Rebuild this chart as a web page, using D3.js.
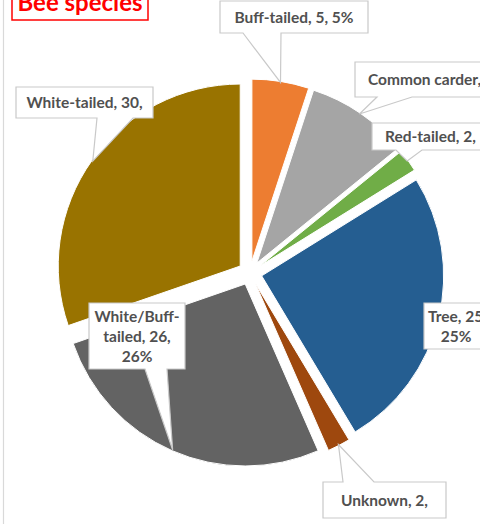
<!DOCTYPE html>
<html>
<head>
<meta charset="utf-8">
<script src="https://cdn.jsdelivr.net/npm/d3@7"></script>
<style>
html,body{margin:0;padding:0;background:#fff;overflow:hidden;}
svg{display:block;}
</style>
</head>
<body>
<script>
// ---- data ----
const categories = ["Buff-tailed","Common carder","Red-tailed","Tree","Unknown","White/Buff-tailed","White-tailed"];
const values = [5, 9, 2, 25, 2, 26, 30];
const colors = ["#ED7D31","#A5A5A5","#70AD47","#255E91","#9E480E","#636363","#997300"];
// visible label lines (as shown in the reference, cut by the chart edge)
const labelLines = [
  ["Buff-tailed, 5, 5%"],
  ["Common carder,"],
  ["Red-tailed, 2,"],
  ["Tree, 25", "25%"],
  ["Unknown, 2,"],
  ["White/Buff-", "tailed, 26,", "26%"],
  ["White-tailed, 30,"]
];
const title = "Bee species";

// ---- layout ----
const W = 480, H = 524;
const cx = 250, cy = 273, R = 182, explode = 12;
// label boxes: x,y,w,h, pointer side and base x positions
const boxes = [
  {x:220, y:1,   w:148, h:32, side:"bottom", b1:243, b2:281},
  {x:355, y:62,  w:160, h:35, side:"bottom", b1:377, b2:412},
  {x:372, y:123, w:140, h:27, side:"bottom", b1:396, b2:422},
  {x:424, y:303, w:64,  h:46, side:null},
  {x:323, y:482, w:123, h:36, side:"top",    b1:343, b2:374},
  {x:89,  y:303, w:96,  h:66, side:"bottom", b1:145, b2:167},
  {x:16,  y:87,  w:137, h:31, side:"bottom", b1:97,  b2:133}
];

const svg = d3.select("body").append("svg").attr("width", W).attr("height", H);

// chart area left border
svg.append("line").attr("x1",3.5).attr("x2",3.5).attr("y1",0).attr("y2",H)
  .attr("stroke","#D9D9D9").attr("stroke-width",1.2);

const pie = d3.pie().sort(null).value(d => d).startAngle(0).endAngle(2*Math.PI);
const arcs = pie(values);
const arc = d3.arc().innerRadius(0).outerRadius(R);

function offset(a){
  const m = (a.startAngle + a.endAngle)/2;
  return [explode*Math.sin(m), -explode*Math.cos(m)];
}

const g = svg.append("g").attr("transform", `translate(${cx},${cy})`);
g.selectAll("path.slice").data(arcs).enter().append("path")
  .attr("class","slice")
  .attr("d", arc)
  .attr("transform", d => { const o = offset(d); return `translate(${o[0]},${o[1]})`; })
  .attr("fill", (d,i) => colors[i])
  .attr("stroke", "#fff").attr("stroke-width", 1);

// callouts
function tipOf(a){
  const m = (a.startAngle + a.endAngle)/2;
  const o = offset(a);
  return [cx + o[0] + (R-1)*Math.sin(m), cy + o[1] - (R-1)*Math.cos(m)];
}
function calloutPath(b, tip){
  const x=b.x, y=b.y, w=b.w, h=b.h;
  if (b.side === "bottom"){
    return `M${x},${y}H${x+w}V${y+h}H${b.b2}L${tip[0]},${tip[1]}L${b.b1},${y+h}H${x}Z`;
  } else if (b.side === "top"){
    return `M${x},${y}H${b.b1}L${tip[0]},${tip[1]}L${b.b2},${y}H${x+w}V${y+h}H${x}Z`;
  }
  return `M${x},${y}H${x+w}V${y+h}H${x}Z`;
}

const lg = svg.append("g");
arcs.forEach((a,i) => {
  const b = boxes[i];
  const tip = tipOf(a);
  lg.append("path").attr("d", calloutPath(b, tip))
    .attr("fill","#fff").attr("stroke","#C9C9C9").attr("stroke-width",1.2)
    .attr("stroke-linejoin","miter");
  const lines = labelLines[i];
  const lh = 20;
  const midY = b.y + b.h/2;
  const startY = midY - (lines.length-1)*lh/2;
  const leftAligned = (i===1 || i===2 || i===3);
  const tx = leftAligned ? b.x + (i===3 ? 4 : 13) : b.x + b.w/2;
  const t = lg.append("text")
    .attr("font-family","Lato, 'Open Sans', sans-serif")
    .attr("font-weight","bold").attr("font-size","15.5px")
    .attr("fill","#505050").attr("text-anchor", leftAligned ? "start" : "middle");
  lines.forEach((ln,k) => {
    const ax = (i===3 && k===1) ? b.x + 32 : tx;
    t.append("tspan").attr("x", ax).attr("y", startY + k*lh).attr("dy","0.36em")
      .attr("text-anchor", (i===3 && k===1) ? "middle" : null).text(ln);
  });
});

// title
svg.append("rect").attr("x",12).attr("y",-12).attr("width",136).attr("height",32)
  .attr("fill","#fff").attr("stroke","#FF0000").attr("stroke-width",1.5);
svg.append("text").attr("x",80).attr("y",11).attr("text-anchor","middle")
  .attr("font-family","Lato, 'Open Sans', sans-serif").attr("font-weight","bold")
  .attr("font-size","24px").attr("fill","#FF0000").text(title);
</script>
</body>
</html>
